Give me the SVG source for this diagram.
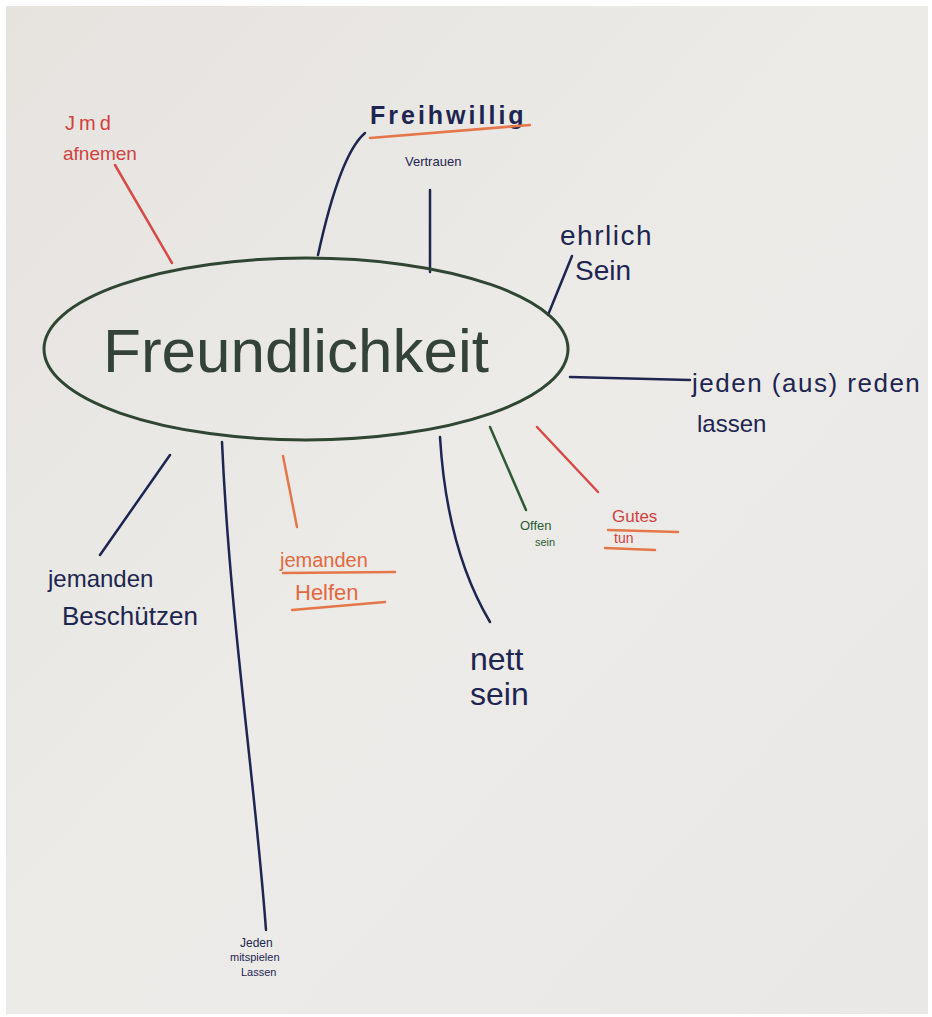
<svg xmlns="http://www.w3.org/2000/svg" width="932" height="1017" viewBox="0 0 932 1017">
<defs>
<linearGradient id="paper" x1="0" y1="0" x2="1" y2="1">
<stop offset="0" stop-color="#e6e3df"/>
<stop offset="0.5" stop-color="#ecebe8"/>
<stop offset="1" stop-color="#e9e8e6"/>
</linearGradient>
</defs>
<style>
.t{font-family:"Liberation Sans","DejaVu Sans",sans-serif}
.navy{fill:#1d2550}
.red{fill:#d2403e}
.orange{fill:#e4683f}
.green{fill:#2a5a30}
.ln{fill:none;stroke-width:2.5;stroke-linecap:round}
.sn{stroke:#1d2550}
.sr{stroke:#d84a45}
.so{stroke:#e4764a}
.sg{stroke:#2f5a33}
</style>
<rect x="0" y="0" width="932" height="1017" fill="#ffffff"/>
<rect x="6" y="6" width="922" height="1008" fill="url(#paper)"/>
<g id="connectors">
<path class="ln sr" d="M115 165 L172 263"/>
<path class="ln sn" d="M318 255 C330 200 345 150 365 133"/>
<path class="ln sn" d="M430 190 L430 272"/>
<path class="ln sn" d="M548 315 L572 256"/>
<path class="ln sn" d="M570 377 L690 380"/>
<path class="ln sg" d="M490 427 L526 510"/>
<path class="ln sr" d="M537 427 L598 492"/>
<path class="ln sn" d="M440 437 C445 520 465 580 490 622"/>
<path class="ln so" d="M283 456 L297 527"/>
<path class="ln sn" d="M222 442 C230 620 255 780 266 930"/>
<path class="ln sn" d="M170 455 L100 555"/>
</g>
<g id="center">
<ellipse cx="306" cy="349" rx="262" ry="91" fill="none" stroke="#2e4632" stroke-width="3"/>
<text class="t" x="296" y="372" font-size="62" text-anchor="middle" fill="#34433a">Freundlichkeit</text>
</g>
<g id="n-jmd">
<text class="t red" x="65" y="130" font-size="20" letter-spacing="4">Jmd</text>
<text class="t red" x="63" y="160" font-size="19">afnemen</text>
</g>
<g id="n-freiwillig">
<text class="t navy" x="370" y="124" font-size="25" font-weight="bold" letter-spacing="3">Freihwillig</text>
<path class="ln so" d="M370 138 L530 125"/>
</g>
<g id="n-vertrauen">
<text class="t navy" x="405" y="166" font-size="13">Vertrauen</text>
</g>
<g id="n-ehrlich">
<text class="t navy" x="560" y="245" font-size="28" letter-spacing="1.5">ehrlich</text>
<text class="t navy" x="575" y="280" font-size="28">Sein</text>
</g>
<g id="n-jeden">
<text class="t navy" x="692" y="392" font-size="26" letter-spacing="1.5">jeden (aus) reden</text>
<text class="t navy" x="697" y="432" font-size="24">lassen</text>
</g>
<g id="n-offen">
<text class="t green" x="520" y="530" font-size="13">Offen</text>
<text class="t green" x="535" y="546" font-size="11">sein</text>
</g>
<g id="n-gutes">
<text class="t red" x="612" y="522" font-size="17">Gutes</text>
<path class="ln so" d="M608 530 L678 532" stroke-width="2"/>
<text class="t red" x="614" y="543" font-size="14">tun</text>
<path class="ln so" d="M605 548 L655 550" stroke-width="2"/>
</g>
<g id="n-nett">
<text class="t navy" x="470" y="670" font-size="32">nett</text>
<text class="t navy" x="470" y="705" font-size="32">sein</text>
</g>
<g id="n-helfen">
<text class="t orange" x="280" y="567" font-size="20">jemanden</text>
<path class="ln so" d="M283 573 L395 572" stroke-width="2"/>
<text class="t orange" x="295" y="600" font-size="22">Helfen</text>
<path class="ln so" d="M292 610 L385 602" stroke-width="2"/>
</g>
<g id="n-beschuetzen">
<text class="t navy" x="48" y="587" font-size="24">jemanden</text>
<text class="t navy" x="62" y="625" font-size="26">Beschützen</text>
</g>
<g id="n-mitspielen">
<text class="t navy" x="240" y="947" font-size="12">Jeden</text>
<text class="t navy" x="230" y="961" font-size="11">mitspielen</text>
<text class="t navy" x="241" y="976" font-size="11">Lassen</text>
</g>
</svg>
